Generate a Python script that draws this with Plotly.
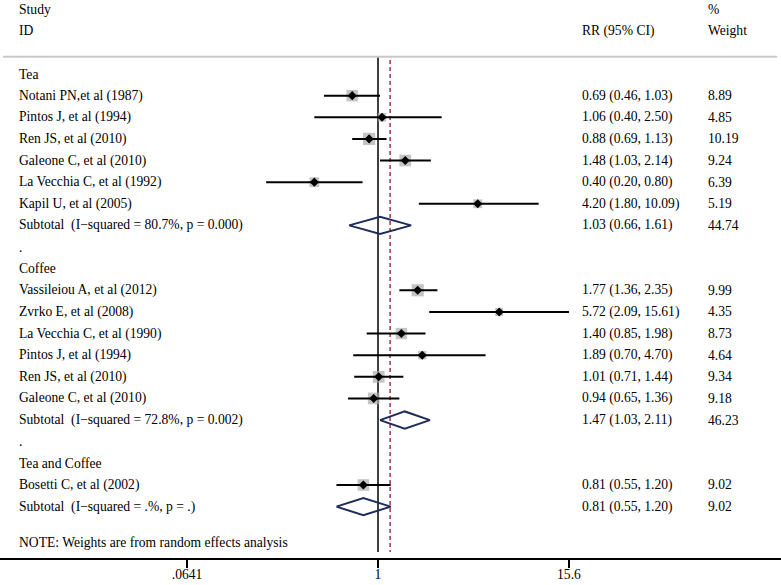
import math
import plotly.graph_objects as go

# ---------------- data ----------------
group_names = ["Tea", "Coffee", "Tea and Coffee"]

study_group = [0, 0, 0, 0, 0, 0, 1, 1, 1, 1, 1, 1, 2]
study_labels = [
    "Notani PN,et al (1987)", "Pintos J, et al (1994)", "Ren JS, et al (2010)",
    "Galeone C, et al (2010)", "La Vecchia C, et al (1992)", "Kapil U, et al (2005)",
    "Vassileiou A, et al (2012)", "Zvrko E, et al (2008)", "La Vecchia C, et al (1990)",
    "Pintos J, et al (1994)", "Ren JS, et al (2010)", "Galeone C, et al (2010)",
    "Bosetti C, et al (2002)",
]
study_rr = [0.69, 1.06, 0.88, 1.48, 0.40, 4.20, 1.77, 5.72, 1.40, 1.89, 1.01, 0.94, 0.81]
study_lo = [0.46, 0.40, 0.69, 1.03, 0.20, 1.80, 1.36, 2.09, 0.85, 0.70, 0.71, 0.65, 0.55]
study_hi = [1.03, 2.50, 1.13, 2.14, 0.80, 10.09, 2.35, 15.61, 1.98, 4.70, 1.44, 1.36, 1.20]
study_weight = [8.89, 4.85, 10.19, 9.24, 6.39, 5.19, 9.99, 4.35, 8.73, 4.64, 9.34, 9.18, 9.02]

sub_i2 = ["80.7%", "72.8%", ".%"]
sub_p = ["0.000", "0.002", "."]
sub_rr = [1.03, 1.47, 0.81]
sub_lo = [0.66, 1.03, 0.55]
sub_hi = [1.61, 2.11, 1.20]
sub_weight = [44.74, 46.23, 9.02]

overall_rr = 1.19
tick_vals = [0.0641, 1, 15.6]
tick_text = [".0641", "1", "15.6"]

# ---------------- layout constants ----------------
W, H = 781, 585
FONT = "Liberation Serif, Times New Roman, serif"
FS = 13.6
ROW_PX = 21.63
ROW0_PX = 74.0
PLOT_BOTTOM_PX = 558.0
PX_PER_LN = 69.5
ONE_PX = 378.0

def px2row(py):
    return (py - ROW0_PX) / ROW_PX

x_lo_log10 = (0 - ONE_PX) / PX_PER_LN / math.log(10)
x_hi_log10 = (W - ONE_PX) / PX_PER_LN / math.log(10)

TEXT_X = 18 / W
RR_X = 580.5 / W
WT_X = 706.5 / W

fig = go.Figure()
annotations = []
shapes = []

def add_text(x, row, text):
    annotations.append(dict(x=x, y=row, xref="paper", yref="y", text=text,
                            showarrow=False, xanchor="left", yanchor="middle",
                            font=dict(family=FONT, size=FS, color="black"),
                            borderpad=0))

# header
add_text(TEXT_X, -3, "Study")
add_text(TEXT_X, -2, "ID")
add_text(RR_X, -2, "RR (95% CI)")
add_text(WT_X, -3, "%")
add_text(WT_X, -2, "Weight")

sep_row = px2row(56.7)
shapes.append(dict(type="line", xref="paper", yref="y", x0=3 / W, x1=777 / W,
                   y0=sep_row, y1=sep_row, line=dict(color="#c8c8c8", width=2)))

# rows
row = 0
study_rows = []
sub_rows = []
for g, gname in enumerate(group_names):
    add_text(TEXT_X, row, gname)
    row += 1
    for i in range(len(study_labels)):
        if study_group[i] != g:
            continue
        add_text(TEXT_X, row, study_labels[i])
        add_text(RR_X, row, f"{study_rr[i]:.2f} ({study_lo[i]:.2f}, {study_hi[i]:.2f})")
        add_text(WT_X, row, f"{study_weight[i]:.2f}")
        study_rows.append(row)
        row += 1
    add_text(TEXT_X, row, f"Subtotal  (I\u2212squared = {sub_i2[g]}, p = {sub_p[g]})")
    add_text(RR_X, row, f"{sub_rr[g]:.2f} ({sub_lo[g]:.2f}, {sub_hi[g]:.2f})")
    add_text(WT_X, row, f"{sub_weight[g]:.2f}")
    sub_rows.append(row)
    row += 1
    if g < len(group_names) - 1:
        add_text(TEXT_X, row, ".")
        row += 1

add_text(TEXT_X, px2row(542.5), "NOTE: Weights are from random effects analysis")

# reference lines
line_bottom = px2row(552)
fig.add_trace(go.Scatter(x=[1, 1], y=[sep_row, line_bottom], mode="lines",
                         line=dict(color="black", width=1.5), hoverinfo="skip"))
fig.add_trace(go.Scatter(x=[overall_rr, overall_rr], y=[px2row(60), line_bottom], mode="lines",
                         line=dict(color="#8b1a2a", width=1.3, dash="4px,3px"), hoverinfo="skip"))

# weight boxes
fig.add_trace(go.Scatter(
    x=study_rr, y=study_rows, mode="markers",
    marker=dict(symbol="square", color="#ababab",
                size=[3.85 * math.sqrt(w) for w in study_weight], line=dict(width=0)),
    hoverinfo="skip"))

# CI lines
for i in range(len(study_rr)):
    fig.add_trace(go.Scatter(x=[study_lo[i], study_hi[i]], y=[study_rows[i]] * 2,
                             mode="lines", line=dict(color="black", width=2),
                             hoverinfo="skip"))

# point estimates
fig.add_trace(go.Scatter(x=study_rr, y=study_rows, mode="markers",
                         marker=dict(symbol="diamond", color="black", size=7),
                         hoverinfo="skip"))

# subtotal diamonds
dh = 0.4
for g in range(len(sub_rr)):
    r = sub_rows[g]
    fig.add_trace(go.Scatter(
        x=[sub_lo[g], sub_rr[g], sub_hi[g], sub_rr[g], sub_lo[g]],
        y=[r, r - dh, r, r + dh, r], mode="lines",
        line=dict(color="#1f2b5b", width=2), hoverinfo="skip"))

fig.update_layout(
    width=W, height=H,
    margin=dict(l=0, r=0, t=0, b=H - PLOT_BOTTOM_PX),
    paper_bgcolor="white", plot_bgcolor="white",
    showlegend=False,
    annotations=annotations, shapes=shapes,
    font=dict(family=FONT, size=FS, color="black"),
    xaxis=dict(type="log", range=[x_lo_log10, x_hi_log10],
               tickvals=tick_vals, ticktext=tick_text,
               ticks="outside", ticklen=8, tickwidth=1.5, tickcolor="black",
               ticklabelstandoff=-5,
               showline=True, linecolor="black", linewidth=1.5,
               showgrid=False, zeroline=False, automargin=False,
               tickfont=dict(family=FONT, size=FS, color="black")),
    yaxis=dict(range=[px2row(PLOT_BOTTOM_PX), px2row(0)], visible=False,
               showgrid=False, zeroline=False, automargin=False),
)

fig.write_html("out.html", config={"displayModeBar": False})

# remove the default page margin so the figure sits at the window's top-left corner
with open("out.html", "r", encoding="utf-8") as f:
    html = f.read()
html = html.replace("<head>", "<head><style>html,body{margin:0;padding:0;overflow:hidden;}</style>", 1)
with open("out.html", "w", encoding="utf-8") as f:
    f.write(html)
